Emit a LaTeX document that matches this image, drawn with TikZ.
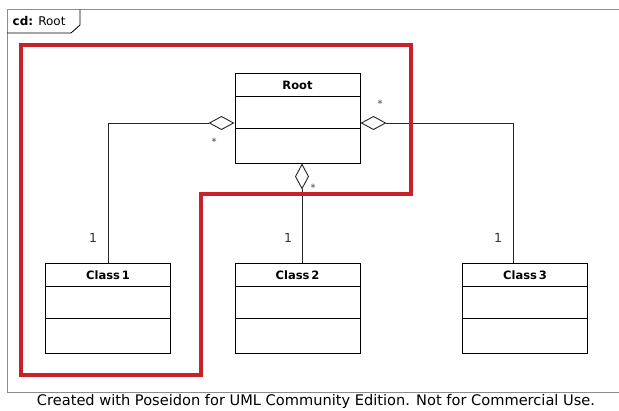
\documentclass[tikz,border=0pt]{standalone}
\usepackage{fontspec}
\setmainfont{DejaVu Sans}
\usetikzlibrary{arrows.meta,calc}
\definecolor{hired}{RGB}{200,34,40}
\definecolor{framegrey}{RGB}{140,140,140}
\tikzset{
  classbox/.style={draw=black,line width=1pt,minimum width=125pt,minimum height=90pt,inner sep=0pt,fill=white},
  classname/.style={font=\fontsize{11.5}{13}\selectfont\bfseries,inner sep=0pt},
  agg/.style={draw=black!85,line width=0.9pt,-{Diamond[open,fill=white,length=26pt,width=14pt,line width=0.9pt]}},
  mult/.style={font=\fontsize{12.5}{14}\selectfont,text=black!80,inner sep=0pt},
  star/.style={font=\fontsize{10}{11}\selectfont,text=black!75,inner sep=0pt},
}
\begin{document}
\begin{tikzpicture}[x=1pt,y=-1pt]
\useasboundingbox (0,0) rectangle (619,410);
% frame
\draw[framegrey,line width=0.9pt] (619,9.5) -- (7,9.5) -- (7,392) -- (619,392);
\draw[black,line width=0.8pt] (7,33) -- (71,33) -- (80,25) -- (80,9.5);
\node[anchor=west,inner sep=0pt,font=\fontsize{12}{14}\selectfont] (tab) at (12.5,21.5) {\textbf{cd:} Root};
% classes
\node[classbox] (root) at (297.5,118) {};
\node[classbox] (c1) at (108,308) {};
\node[classbox] (c2) at (297.5,308) {};
\node[classbox] (c3) at (525,308) {};
\foreach \n/\t in {root/Root,c1/Class\,1,c2/Class\,2,c3/Class\,3}{
  \draw[line width=1pt] ($(\n.north west)+(0,24)$) -- ($(\n.north east)+(0,24)$);
  \draw[line width=1pt] ($(\n.north west)+(0,56)$) -- ($(\n.north east)+(0,56)$);
  \node[classname] (\n-name) at ($(\n.north)+(0,12.5)$) {\t};
}
% attachment points
\coordinate (rootW) at ($(root.west)+(0,5)$);
\coordinate (rootE) at ($(root.east)+(0,5)$);
\coordinate (rootS) at ($(root.south)+(4.5,0)$);
\coordinate (c2N) at ($(c2.north)+(4.5,0)$);
\coordinate (c3N) at ($(c3.north)+(-12,0)$);
% connectors
\draw[agg] (c1.north) |- (rootW);
\draw[agg] (c3N) |- (rootE);
\draw[agg] (c2N) -- (rootS);
% multiplicities
\node[star] (m1) at (214,142) {*};
\node[star] (m2) at (380,104) {*};
\node[star] (m3) at (313,188) {*};
\node[mult] (n1) at (93,238) {1};
\node[mult] (n2) at (288,238) {1};
\node[mult] (n3) at (498,238) {1};
% highlight
\draw[hired,line width=4pt,line join=miter] (21,45) -- (411,45) -- (411,194) -- (200.5,194) -- (200.5,375) -- (21,375) -- cycle;
% footer
\node[inner sep=0pt,font=\fontsize{14.6}{16}\selectfont] (foot) at (316,401) {Created with Poseidon for UML Community Edition. Not for Commercial Use.};
\end{tikzpicture}
\end{document}
